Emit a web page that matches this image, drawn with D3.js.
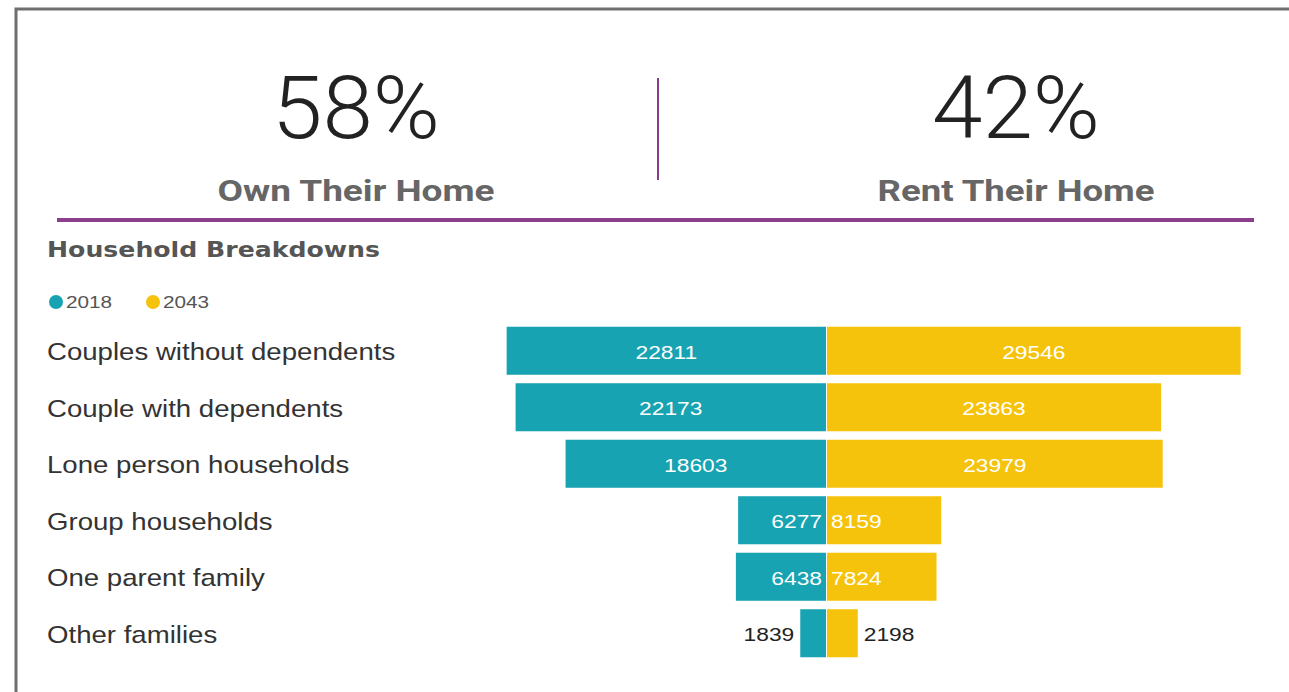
<!DOCTYPE html>
<html>
<head>
<meta charset="utf-8">
<script src="https://cdn.jsdelivr.net/npm/d3@7"></script>
<style>
  html, body { margin: 0; padding: 0; background: #fff; }
  svg { display: block; }
</style>
</head>
<body>
<svg id="chart" width="1289" height="692"></svg>
<script>
// Household breakdown data
const categories = [
  "Couples without dependents",
  "Couple with dependents",
  "Lone person households",
  "Group households",
  "One parent family",
  "Other families"
];
const values2018 = [22811, 22173, 18603, 6277, 6438, 1839];
const values2043 = [29546, 23863, 23979, 8159, 7824, 2198];
const seriesNames = ["2018", "2043"];

// Tenure headline figures
const tenureValues = ["58%", "42%"];
const tenureLabels = ["Own Their Home", "Rent Their Home"];

const colors = { "2018": "#17a3b1", "2043": "#f6c30c" };

const svg = d3.select("#chart");

// Panel frame (top and left edges)
svg.append("path")
  .attr("d", "M16,692 L16,9 L1289,9")
  .attr("fill", "none")
  .attr("stroke", "#6f6f6f")
  .attr("stroke-width", 3);

// Headline tiles
const tileX = [356, 1016];
tenureValues.forEach((v, i) => {
  svg.append("text")
    .attr("x", tileX[i]).attr("y", 138)
    .attr("text-anchor", "middle")
    .attr("font-family", "Roboto, sans-serif")
    .attr("font-weight", 300)
    .attr("font-size", 88)
    .attr("fill", "#222")
    .attr("textLength", 168)
    .attr("lengthAdjust", "spacingAndGlyphs")
    .text(v);
  svg.append("text")
    .attr("x", tileX[i]).attr("y", 201)
    .attr("text-anchor", "middle")
    .attr("font-family", "Roboto, sans-serif")
    .attr("font-weight", 700)
    .attr("font-size", 30)
    .attr("fill", "#666")
    .attr("textLength", 277)
    .attr("lengthAdjust", "spacingAndGlyphs")
    .text(tenureLabels[i]);
});

// Divider lines
svg.append("line")
  .attr("x1", 658).attr("x2", 658).attr("y1", 78).attr("y2", 180)
  .attr("stroke", "#8b3a8b").attr("stroke-width", 2);
svg.append("line")
  .attr("x1", 57).attr("x2", 1254).attr("y1", 220).attr("y2", 220)
  .attr("stroke", "#8a3f8c").attr("stroke-width", 4);

// Section title
svg.append("text")
  .attr("x", 47).attr("y", 257)
  .attr("font-family", "'DejaVu Sans', sans-serif")
  .attr("font-weight", 700)
  .attr("font-size", 21)
  .attr("fill", "#555")
  .attr("textLength", 333)
  .attr("lengthAdjust", "spacingAndGlyphs")
  .text("Household Breakdowns");

// Legend
const legendX = [56, 153];
seriesNames.forEach((s, i) => {
  svg.append("circle")
    .attr("cx", legendX[i]).attr("cy", 302).attr("r", 7)
    .attr("fill", colors[s]);
  svg.append("text")
    .attr("transform", `translate(${legendX[i] + 10},308) scale(1.22,1)`)
    .attr("font-family", "'Liberation Sans', Arial, sans-serif")
    .attr("font-size", 17)
    .attr("fill", "#555")
    .text(s);
});

// Scales
const y = d3.scaleBand()
  .domain(categories)
  .range([322.5, 661.5])
  .paddingInner(0.15)
  .paddingOuter(0.075);

const center = 826;
const xLeft = d3.scaleLinear().domain([0, 30000]).range([center, center - 420]);
const xRight = d3.scaleLinear().domain([0, 30000]).range([center + 1, center + 421]);

const rows = categories.map((c, i) => ({ cat: c, a: values2018[i], b: values2043[i] }));

// Category labels
svg.append("g").selectAll("text")
  .data(rows).join("text")
  .attr("transform", d => `translate(47,${y(d.cat) + y.bandwidth() / 2 + 1}) scale(1.15,1)`)
  .attr("dominant-baseline", "central")
  .attr("font-family", "'Liberation Sans', Arial, sans-serif")
  .attr("font-size", 24)
  .attr("fill", "#333")
  .text(d => d.cat);

// Bars
const bars = svg.append("g");
bars.selectAll("rect.l")
  .data(rows).join("rect")
  .attr("class", "l")
  .attr("x", d => xLeft(d.a))
  .attr("y", d => y(d.cat))
  .attr("width", d => xLeft(0) - xLeft(d.a))
  .attr("height", y.bandwidth())
  .attr("fill", colors["2018"]);
bars.selectAll("rect.r")
  .data(rows).join("rect")
  .attr("class", "r")
  .attr("x", xRight(0))
  .attr("y", d => y(d.cat))
  .attr("width", d => xRight(d.b) - xRight(0))
  .attr("height", y.bandwidth())
  .attr("fill", colors["2043"]);

// Value labels: centred in wide bars, near the base in narrow ones, outside in tiny ones
function labelPos(side, v) {
  const sc = side === "l" ? xLeft : xRight;
  const w = Math.abs(sc(v) - sc(0));
  const dir = side === "l" ? -1 : 1;
  if (w > 150) return { x: (sc(v) + sc(0)) / 2, anchor: "middle", inside: true };
  if (w > 50) return { x: sc(0) + dir * 4, anchor: side === "l" ? "end" : "start", inside: true };
  return { x: sc(v) + dir * 6, anchor: side === "l" ? "end" : "start", inside: false };
}

const labels = svg.append("g");
[["l", "a"], ["r", "b"]].forEach(([side, key]) => {
  labels.selectAll("text." + side)
    .data(rows).join("text")
    .attr("class", side)
    .each(function (d) {
      const p = labelPos(side, d[key]);
      d3.select(this)
        .attr("transform", `translate(${p.x},${y(d.cat) + y.bandwidth() / 2 + 1}) scale(1.2,1)`)
        .attr("text-anchor", p.anchor)
        .attr("fill", p.inside ? "#fff" : "#222");
    })
    .attr("dominant-baseline", "central")
    .attr("font-family", "'Liberation Sans', Arial, sans-serif")
    .attr("font-size", 19)
    .text(d => d[key]);
});
</script>
</body>
</html>
